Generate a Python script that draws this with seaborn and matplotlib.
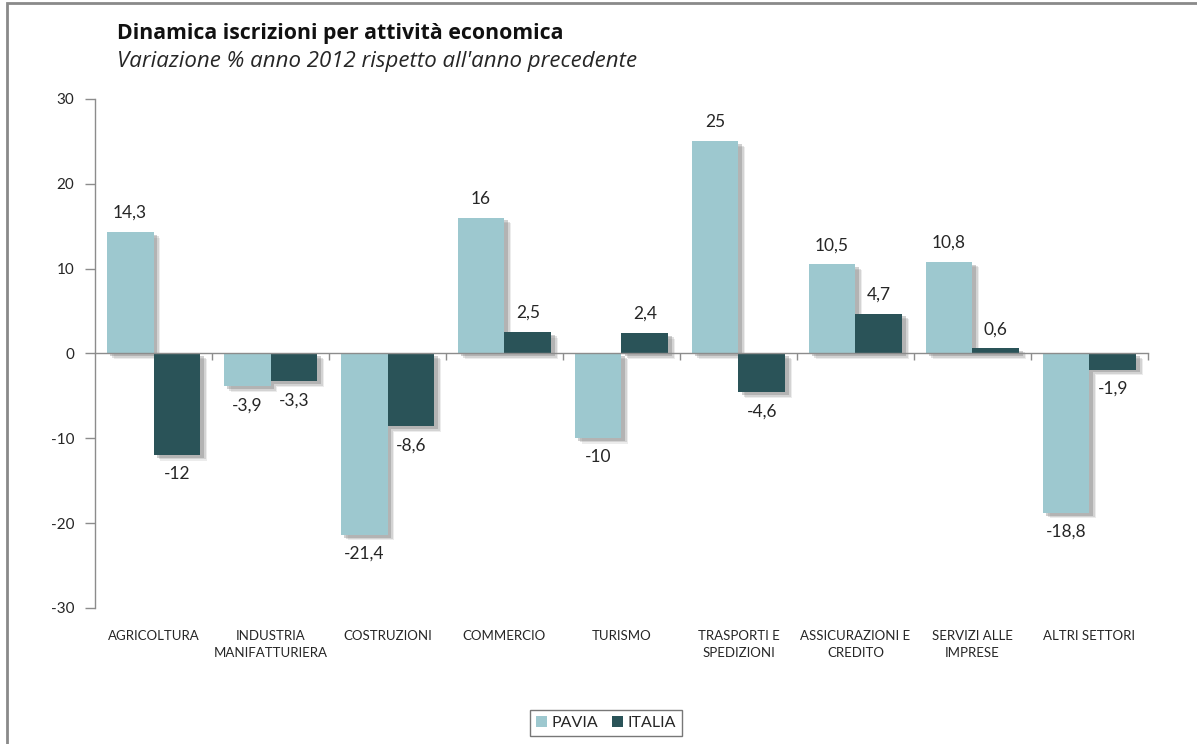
import matplotlib
matplotlib.use("Agg")
import matplotlib.pyplot as plt
import matplotlib.patheffects as pe
from matplotlib.patches import Rectangle
import seaborn as sns
import pandas as pd

categories = [
    "Agricoltura", "Industria\nmanifatturiera", "Costruzioni", "Commercio",
    "Turismo", "Trasporti e\nSpedizioni", "Assicurazioni e\nCredito",
    "Servizi alle\nimprese", "Altri settori",
]
pavia = [14.3, -3.9, -21.4, 16.0, -10.0, 25.0, 10.5, 10.8, -18.8]
italia = [-12.0, -3.3, -8.6, 2.5, 2.4, -4.6, 4.7, 0.6, -1.9]
series_names = ["PAVIA", "ITALIA"]
y_ticks = [-30, -20, -10, 0, 10, 20, 30]

title = "Dinamica iscrizioni per attività economica"
subtitle = "Variazione % anno 2012 rispetto all'anno precedente"

colors = {"PAVIA": "#9dc8cf", "ITALIA": "#2a5358"}
grey = "#8c8c8c"
text_col = "#262626"

df = pd.DataFrame({
    "categoria": categories * 2,
    "serie": [series_names[0]] * len(categories) + [series_names[1]] * len(categories),
    "valore": pavia + italia,
})

sns.set_theme(style="white")
plt.rcParams["font.family"] = ["Lato", "DejaVu Sans"]

fig = plt.figure(figsize=(11.97, 7.44), dpi=100)
ax = fig.add_axes([0.0794, 0.183, 0.8796, 0.684])

sns.barplot(data=df, x="categoria", y="valore", hue="serie", order=categories,
            hue_order=series_names, palette=colors, width=0.8, saturation=1,
            errorbar=None, ax=ax, zorder=3, linewidth=0)

# soft drop shadow built from a few stacked offsets
shadow = [
    pe.SimplePatchShadow(offset=(5, -4), shadow_rgbFace="#9a9a9a", alpha=0.18),
    pe.SimplePatchShadow(offset=(4, -3), shadow_rgbFace="#8a8a8a", alpha=0.25),
    pe.SimplePatchShadow(offset=(2.5, -2), shadow_rgbFace="#7a7a7a", alpha=0.35),
    pe.Normal(),
]
for cont in ax.containers:
    for bar in cont:
        bar.set_path_effects(shadow)
    labels = []
    for v in cont.datavalues:
        s = f"{v:.1f}".rstrip("0").rstrip(".").replace(".", ",")
        labels.append(s)
    ax.bar_label(cont, labels=labels, padding=8, fontsize=12.5, color=text_col)

ax.set_xlim(-0.5, len(categories) - 0.5)
ax.set_ylim(-30, 30)
ax.set_yticks(y_ticks)
ax.set_yticklabels([str(t) for t in y_ticks], fontsize=11, color=text_col)
ax.tick_params(axis="y", length=7, width=1, color=grey, pad=8, left=True)
ax.set_xlabel("")
ax.set_ylabel("")

for side in ["top", "right"]:
    ax.spines[side].set_visible(False)
ax.spines["left"].set_color(grey)
ax.spines["left"].set_linewidth(1)
# zero line carrying the category boundary ticks
ax.spines["bottom"].set_position(("data", 0))
ax.spines["bottom"].set_color(grey)
ax.spines["bottom"].set_linewidth(1)
ax.spines["bottom"].set_zorder(4)
ax.set_xticks([i + 0.5 for i in range(len(categories))], minor=False)
ax.set_xticklabels([])
ax.tick_params(axis="x", which="major", length=5, width=1, color=grey,
               direction="out", bottom=True)

# category names along the bottom of the plot area
sec = ax.secondary_xaxis(0)
sec.set_xticks(range(len(categories)))
sec.set_xticklabels([c.upper() for c in categories], fontsize=9.5,
                    color=text_col, linespacing=1.5)
sec.tick_params(length=0, pad=16)
sec.spines["bottom"].set_visible(False)

handles, lbls = ax.get_legend_handles_labels()
ax.get_legend().remove()
leg = fig.legend(handles, lbls, loc="center", bbox_to_anchor=(606 / 1197, 1 - 723 / 744),
                 ncol=2, frameon=True, fontsize=11.5, handlelength=0.7,
                 handleheight=0.7, handletextpad=0.3, columnspacing=0.8,
                 borderpad=0.35, fancybox=False)
leg.get_frame().set_edgecolor("#555555")
leg.get_frame().set_linewidth(1)
for t in leg.get_texts():
    t.set_color(text_col)

fig.text(117 / 1197, 1 - 34 / 744, title, fontsize=15.3, fontweight="bold",
         family=["Open Sans", "DejaVu Sans"], color="#111111", va="center", ha="left")
fig.text(117 / 1197, 1 - 62 / 744, subtitle, fontsize=16, fontstyle="italic",
         family=["Open Sans", "DejaVu Sans"], color=text_col, va="center", ha="left")

fig.patches.append(Rectangle((7 / 1197, -0.1), 1.2, 1.1 - 3 / 744,
                             transform=fig.transFigure, fill=False,
                             edgecolor="#8a8a8a", linewidth=2))

fig.savefig("out.png", dpi=100, facecolor="white")
